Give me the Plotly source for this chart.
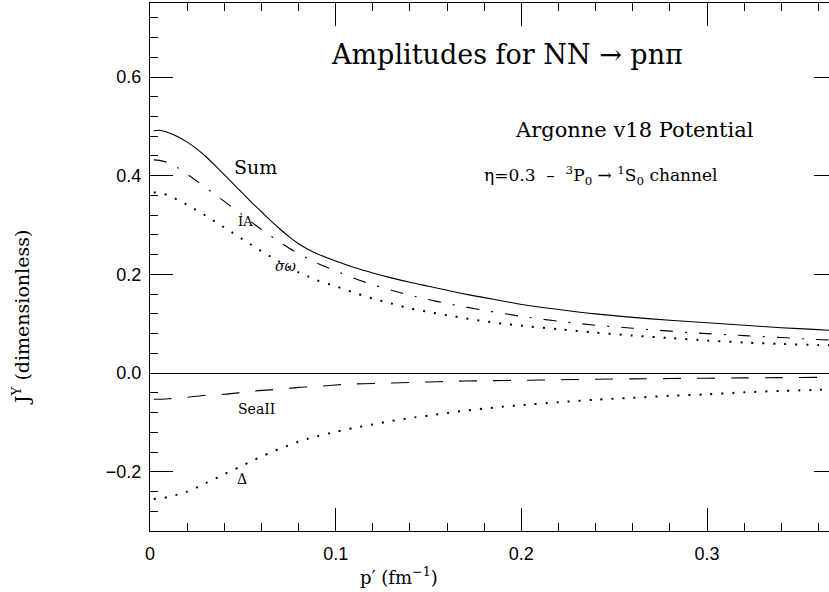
import plotly.graph_objects as go

# momentum grid p' (fm^-1)
p = [0.002, 0.005, 0.01, 0.015, 0.02, 0.025, 0.03, 0.035, 0.04, 0.045, 0.05,
     0.055, 0.06, 0.065, 0.07, 0.075, 0.08, 0.085, 0.09, 0.10, 0.11, 0.12, 0.13, 0.14,
     0.15, 0.16, 0.17, 0.18, 0.19, 0.20, 0.22, 0.24, 0.26, 0.28, 0.30, 0.32,
     0.34, 0.36, 0.37]

sum_amp = [0.491, 0.492, 0.487, 0.479, 0.468, 0.455, 0.439, 0.421, 0.402, 0.383,
           0.364, 0.345, 0.327, 0.309, 0.292, 0.276, 0.262, 0.251, 0.242, 0.227,
           0.214, 0.203, 0.193, 0.184, 0.176, 0.168, 0.160, 0.153, 0.146, 0.139,
           0.129, 0.120, 0.113, 0.107, 0.102, 0.097, 0.092, 0.088, 0.086]

ia_amp = [0.432, 0.431, 0.426, 0.416, 0.403, 0.390, 0.376, 0.362, 0.348, 0.334,
          0.320, 0.305, 0.291, 0.278, 0.265, 0.253, 0.242, 0.232, 0.223, 0.207,
          0.192, 0.179, 0.168, 0.158, 0.149, 0.141, 0.134, 0.127, 0.121, 0.115,
          0.105, 0.097, 0.091, 0.085, 0.080, 0.076, 0.072, 0.068, 0.067]

sigma_omega = [0.366, 0.365, 0.360, 0.351, 0.341, 0.330, 0.319, 0.307, 0.295, 0.283,
               0.271, 0.259, 0.247, 0.236, 0.225, 0.214, 0.204, 0.196, 0.188, 0.176,
               0.163, 0.151, 0.141, 0.131, 0.124, 0.117, 0.111, 0.105, 0.100, 0.096,
               0.089, 0.082, 0.076, 0.071, 0.066, 0.062, 0.059, 0.057, 0.056]

seaII = [-0.053, -0.053, -0.052, -0.051, -0.049, -0.047, -0.045, -0.044, -0.043, -0.041,
         -0.039, -0.037, -0.035, -0.034, -0.032, -0.031, -0.029, -0.028, -0.027, -0.024,
         -0.022, -0.021, -0.020, -0.019, -0.018, -0.017, -0.016, -0.0155, -0.015, -0.0145,
         -0.0135, -0.0125, -0.0117, -0.011, -0.0103, -0.0097, -0.0092, -0.0086, -0.0083]

delta = [-0.255, -0.254, -0.251, -0.246, -0.240, -0.232, -0.223, -0.214, -0.205, -0.196,
         -0.187, -0.178, -0.169, -0.161, -0.153, -0.146, -0.139, -0.133, -0.128, -0.119,
         -0.111, -0.104, -0.097, -0.091, -0.086, -0.081, -0.076, -0.072, -0.068, -0.065,
         -0.059, -0.054, -0.050, -0.046, -0.043, -0.039, -0.036, -0.034, -0.032]

x_ticks = [0, 0.1, 0.2, 0.3]
x_tick_labels = ["0", "0.1", "0.2", "0.3"]
y_ticks = [-0.2, 0.0, 0.2, 0.4, 0.6]
y_tick_labels = ["\u22120.2", "0.0", "0.2", "0.4", "0.6"]

SERIF = "DejaVu Serif"
SANS = "Liberation Sans"

fig = go.Figure()

series = [
    (sum_amp, dict(color="black", width=1.1)),
    (ia_amp, dict(color="black", width=1.1, dash="13px,12px,2px,12px")),
    (sigma_omega, dict(color="black", width=2, dash="2px,9px")),
    (seaII, dict(color="black", width=1.1, dash="18px,16px")),
    (delta, dict(color="black", width=2, dash="2px,9px")),
]
for ys, ln in series:
    fig.add_trace(go.Scatter(x=p, y=ys, mode="lines", line=dict(shape="spline", smoothing=0.8, **ln),
                             showlegend=False, hoverinfo="skip"))

annotations = [
    dict(x=0.1924, y=0.645, text="Amplitudes for NN \u2192 pn\u03c0", font=dict(family=SERIF, size=27)),
    dict(x=0.2608, y=0.4928, text="Argonne v18 Potential", font=dict(family=SERIF, size=21)),
    dict(x=0.2425, y=0.401,
         text="\u03b7=0.3  \u2013  <sup>3</sup>P<sub>0</sub> \u2192 <sup>1</sup>S<sub>0</sub> channel",
         font=dict(family=SERIF, size=17)),
    dict(x=0.057, y=0.418, text="Sum", font=dict(family=SERIF, size=19)),
    dict(x=0.0514, y=0.308, text="IA", font=dict(family=SERIF, size=13)),
    dict(x=0.073, y=0.2165, text="<i>\u03c3\u03c9</i>", font=dict(family=SERIF, size=14)),
    dict(x=0.0574, y=-0.0737, text="SeaII", font=dict(family=SERIF, size=14)),
    dict(x=0.0498, y=-0.214, text="\u0394", font=dict(family=SERIF, size=14)),
]
for a in annotations:
    fig.add_annotation(xref="x", yref="y", showarrow=False, xanchor="center",
                       yanchor="middle", font_color="black", **a)

# axis titles placed as paper annotations
fig.add_annotation(xref="paper", yref="paper", x=(399 - 150) / 687, y=(531 - 576) / 528,
                   text="p\u2032 (fm<sup>\u22121</sup>)", showarrow=False,
                   font=dict(family=SERIF, size=18, color="black"), xanchor="center", yanchor="middle")
fig.add_annotation(xref="paper", yref="paper", x=-(150 - 21) / 687, y=(531 - 318) / 528,
                   text="J<sup>Y</sup> (dimensionless)", showarrow=False, textangle=-90,
                   font=dict(family=SERIF, size=19, color="black"), xanchor="center", yanchor="middle")

axis_common = dict(showline=True, linecolor="black", linewidth=1, mirror="allticks",
                   ticks="inside", ticklen=23, tickcolor="black", tickwidth=1,
                   showgrid=False, tickfont=dict(family=SANS, size=18, color="black"))

fig.update_xaxes(range=[0, 0.37], tickvals=x_ticks, ticktext=x_tick_labels, zeroline=False,
                 minor=dict(dtick=0.02, ticklen=8, ticks="inside", tickcolor="black", showgrid=False),
                 ticklabelstandoff=6, **axis_common)
fig.update_yaxes(range=[-0.32, 0.75], tickvals=y_ticks, ticktext=y_tick_labels,
                 zeroline=True, zerolinecolor="black", zerolinewidth=1,
                 minor=dict(tick0=0, dtick=0.04, ticklen=8, ticks="inside", tickcolor="black", showgrid=False),
                 ticklabelstandoff=4, **axis_common)

fig.update_layout(width=842, height=592, margin=dict(l=150, r=5, t=3, b=61),
                  plot_bgcolor="white", paper_bgcolor="white")

fig.write_html("out.html", config={"displayModeBar": False},
               post_script="document.body.style.margin='0px';document.body.style.overflow='hidden';")
